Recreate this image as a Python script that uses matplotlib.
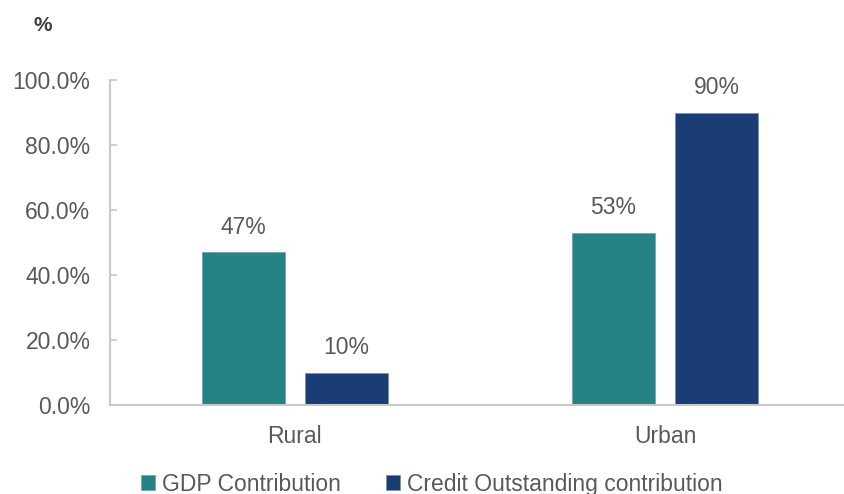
import numpy as np
import matplotlib.pyplot as plt
from matplotlib.ticker import FuncFormatter

# data
categories = ["Rural", "Urban"]
gdp_share = [47, 53]
credit_share = [10, 90]
series_names = ["GDP Contribution", "Credit Outstanding contribution"]
yticks = [0, 20, 40, 60, 80, 100]

teal = "#258385"
navy = "#1B3D75"
txt = "#595959"
axis_grey = "#C8C8C8"

plt.rcParams['font.family'] = ['Liberation Sans', 'DejaVu Sans']

fig = plt.figure(figsize=(8.45, 4.94), dpi=100)
ax = fig.add_axes([0.130, 0.180, 0.876, 0.658])

x = np.arange(len(categories))
w = 0.224
off = 0.14
b1 = ax.bar(x - off, gdp_share, w, color=teal, edgecolor="#6FA9AB", linewidth=0.6,
            label=series_names[0])
b2 = ax.bar(x + off, credit_share, w, color=navy, edgecolor="#7D8FB0", linewidth=0.6,
            label=series_names[1])

for bars in (b1, b2):
    for r in bars:
        ax.annotate(f"{r.get_height():.0f}%", (r.get_x() + r.get_width() / 2, r.get_height()),
                    xytext=(0, 18), textcoords="offset points", ha="center", va="center",
                    fontsize=16.5, color=txt)

ax.set_xlim(-0.5, 1.5)
ax.set_ylim(0, 100)
ax.set_xticks(x)
ax.set_xticklabels(categories)
ax.set_yticks(yticks)
ax.yaxis.set_major_formatter(FuncFormatter(lambda v, p: f"{v:.1f}%"))

for s in ["top", "right"]:
    ax.spines[s].set_visible(False)
for s in ["left", "bottom"]:
    ax.spines[s].set_color(axis_grey)
    ax.spines[s].set_linewidth(1.5)

ax.tick_params(axis="y", direction="in", length=5, width=1.2, color=axis_grey,
               labelsize=16.5, labelcolor=txt, pad=14)
ax.tick_params(axis="x", length=0, labelsize=16.5, labelcolor=txt, pad=14)

fig.text(0.05, 0.948, "%", fontsize=15, fontweight="bold", color="#404040",
         ha="center", va="center")

fig.legend(loc="center", bbox_to_anchor=(0.511, 0.02), ncol=2, frameon=False,
           fontsize=16.5, labelcolor=txt, handlelength=0.6, handleheight=0.6,
           handletextpad=0.3, columnspacing=2.0, borderaxespad=0)

fig.savefig("out.png", dpi=100)
